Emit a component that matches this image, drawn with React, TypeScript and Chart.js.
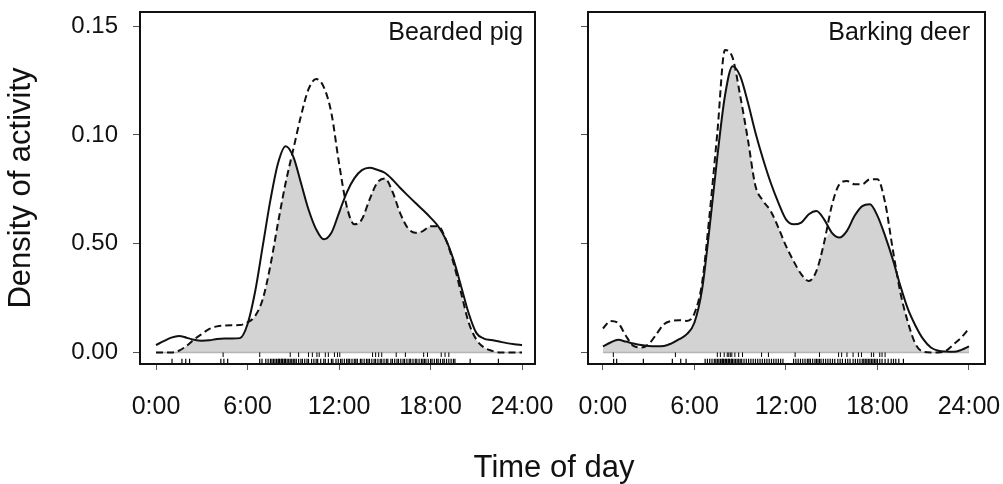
import React, { useEffect, useRef } from 'react';
import { Chart, registerables } from 'chart.js';

Chart.register(...registerables);

const FONT = "'Liberation Sans', Arial, Helvetica, sans-serif";
const INK = '#111111';

// ---- data ----
const hours = [
  0, 0.5, 1, 1.5, 2, 2.5, 3, 3.5, 4, 4.5, 5, 5.5, 6, 6.5, 7, 7.5, 8, 8.5, 9, 9.5,
  10, 10.5, 11, 11.5, 12, 12.5, 13, 13.5, 14, 14.5, 15, 15.5, 16, 16.5, 17, 17.5,
  18, 18.5, 19, 19.5, 20, 20.5, 21, 21.5, 22, 22.5, 23, 23.5, 24,
];

// Bearded pig: solid and dashed density curves
const pigSolid = [
  0.0034, 0.0052, 0.0068, 0.0076, 0.0068, 0.0058, 0.0054, 0.0056, 0.0062, 0.0064,
  0.0064, 0.0066, 0.013, 0.028, 0.049, 0.07, 0.087, 0.0948, 0.09, 0.078,
  0.0657, 0.0566, 0.052, 0.055, 0.0642, 0.0734, 0.08, 0.0838, 0.0849, 0.084,
  0.0826, 0.0795, 0.0757, 0.0722, 0.0688, 0.0655, 0.062, 0.058, 0.052, 0.0428,
  0.0306, 0.018, 0.009, 0.0064, 0.0057, 0.005, 0.0043, 0.0038, 0.0034,
];
const pigDashed = [
  0, 0, 0, 0.0008, 0.003, 0.006, 0.0085, 0.0108, 0.012, 0.0124,
  0.0125, 0.0126, 0.0138, 0.0168, 0.0245, 0.04, 0.0596, 0.078, 0.0933, 0.1086,
  0.121, 0.1257, 0.122, 0.11, 0.087, 0.0673, 0.0589, 0.0612, 0.0703, 0.078,
  0.08, 0.074, 0.0642, 0.0573, 0.055, 0.0558, 0.058, 0.058, 0.052, 0.0413,
  0.0275, 0.0138, 0.006, 0.0023, 0.0008, 0, 0, 0, 0,
];

// Barking deer: solid and dashed density curves
const deerSolid = [
  0.0028, 0.0046, 0.0058, 0.005, 0.0041, 0.0034, 0.003, 0.0029, 0.003, 0.0042,
  0.0061, 0.0084, 0.0138, 0.029, 0.058, 0.09, 0.118, 0.1316, 0.127, 0.115,
  0.101, 0.0888, 0.078, 0.0689, 0.0612, 0.0589, 0.0597, 0.0635, 0.065, 0.0612,
  0.0551, 0.0528, 0.0559, 0.0628, 0.0673, 0.0681, 0.0628, 0.0536, 0.0429, 0.0306,
  0.0199, 0.0122, 0.0061, 0.0023, 0.0008, 0.0004, 0.0003, 0.0012, 0.0028,
];
const deerDashed = [
  0.011, 0.0145, 0.0135, 0.0077, 0.003, 0.0023, 0.0038, 0.0084, 0.013, 0.0145,
  0.0148, 0.0145, 0.018, 0.032, 0.064, 0.101, 0.139, 0.1355, 0.118, 0.098,
  0.0765, 0.0697, 0.065, 0.0574, 0.049, 0.042, 0.036, 0.0329, 0.0375, 0.0505,
  0.0673, 0.0773, 0.0788, 0.0773, 0.0773, 0.0796, 0.0796, 0.0689, 0.0475, 0.0276,
  0.0138, 0.0038, 0.0003, 0, 0, 0.0008, 0.0038, 0.0069, 0.011,
];

// Rug marks (times of records, hours)
const pigRugTop = [
  4.4, 6.8, 8.8, 9.35, 10.0, 10.25, 10.55, 10.7, 11.1, 11.3, 11.7, 11.9, 12.05,
  14.2, 14.4, 14.6, 14.8, 15.75, 16.35, 17.55, 17.8, 18.7, 18.95, 19.2,
];
const pigRugBottom = [
  1.05, 1.7, 1.95, 2.2, 4.25, 4.45, 4.7, 6.8, 6.95, 7.2, 7.35, 7.5, 7.6, 7.7, 7.8,
  7.9, 8.0, 8.05, 8.1, 8.2, 8.25, 8.3, 8.4, 8.45, 8.5, 8.6, 8.7, 8.8, 8.9, 9.0,
  9.1, 9.2, 9.35, 9.5, 9.6, 9.75, 9.9, 10.0, 10.2, 10.35, 10.5, 10.6, 10.8, 11.0,
  11.1, 11.3, 11.5, 11.6, 11.8, 11.95, 12.1, 12.2, 12.35, 12.5, 12.6, 12.7, 12.85,
  13.0, 13.1, 13.2, 13.4, 13.5, 13.65, 13.8, 13.9, 14.0, 14.15, 14.3, 14.4, 14.55,
  14.7, 14.8, 14.95, 15.1, 15.2, 15.4, 15.5, 15.65, 15.8, 15.9, 16.05, 16.2, 16.3,
  16.45, 16.6, 16.7, 16.85, 17.0, 17.1, 17.25, 17.4, 17.5, 17.6, 17.7, 17.85, 18.0,
  18.1, 18.25, 18.4, 18.5, 18.65, 18.8, 18.9, 19.05, 19.2, 19.35, 19.5, 19.6,
  20.6, 22.45,
];
const deerRugTop = [
  0.68, 4.75, 7.5, 7.7, 7.95, 8.15, 8.25, 8.35, 8.45, 8.65, 8.9, 9.15, 10.4, 10.85,
  12.6, 14.2, 15.45, 15.65, 16.0, 16.4, 16.75, 16.95, 17.6, 17.75, 18.15, 18.3, 18.5,
];
const deerRugBottom = [
  0.7, 0.9, 2.65, 4.55, 5.1, 5.45, 6.7, 6.85, 7.0, 7.15, 7.3, 7.4, 7.5, 7.6, 7.7,
  7.8, 7.85, 7.9, 8.0, 8.05, 8.1, 8.2, 8.25, 8.3, 8.4, 8.45, 8.5, 8.6, 8.7, 8.8,
  8.9, 9.0, 9.1, 9.25, 9.4, 9.55, 9.7, 9.85, 10.0, 10.15, 10.3, 10.45, 10.6, 10.75,
  10.9, 11.05, 11.2, 11.35, 11.5, 11.65, 11.8, 12.5, 12.65, 12.8, 12.95, 13.1,
  13.25, 13.4, 13.5, 13.6, 13.75, 13.9, 14.0, 14.1, 14.2, 14.3, 14.45, 14.6, 14.75,
  14.9, 15.05, 15.2, 15.4, 15.55, 15.7, 15.9, 16.05, 16.2, 16.4, 16.55, 16.7, 16.85,
  17.0, 17.1, 17.2, 17.3, 17.4, 17.5, 17.6, 17.7, 17.8, 17.9, 18.0, 18.15, 18.3,
  18.5, 18.7, 18.9, 19.05, 19.2, 19.4, 19.7,
];

const xTickValues = [0, 6, 12, 18, 24];
const xTickLabels = ['0:00', '6:00', '12:00', '18:00', '24:00'];
const yTickValues = [0, 0.05, 0.1, 0.15];
const yTickLabels = ['0.00', '0.50', '0.10', '0.15'];
const panelTitles = ['Bearded pig', 'Barking deer'];
const yAxisTitle = 'Density of activity';
const xAxisTitle = 'Time of day';

// ---- helpers ----
const framePlugin = {
  id: 'panelFrame',
  afterDatasetsDraw(chart: any, _args: any, opts: any) {
    const { ctx, chartArea: a } = chart;
    ctx.save();
    ctx.strokeStyle = INK;
    ctx.lineWidth = 2;
    ctx.strokeRect(a.left, a.top, a.right - a.left, a.bottom - a.top);
    ctx.font = `25px ${FONT}`;
    ctx.fillStyle = INK;
    ctx.textAlign = 'right';
    ctx.textBaseline = 'alphabetic';
    const x = chart.scales.x.getPixelForValue(24) + 1;
    ctx.fillText(opts.text, x, 40);
    ctx.restore();
  },
};

function buildDatasets(solid: number[], dashed: number[], rugTop: number[], rugBottom: number[]) {
  const line = (vals: number[]) => hours.map((h, i) => ({ x: h, y: vals[i] }));
  const overlap = hours.map((h, i) => ({ x: h, y: Math.min(solid[i], dashed[i]) }));
  const rug = (vals: number[], y: number) => vals.map((v) => ({ x: v, y }));
  return [
    {
      data: line(solid), borderColor: INK, borderWidth: 2, pointRadius: 0,
      cubicInterpolationMode: 'monotone', fill: false, order: 1,
    },
    {
      data: line(dashed), borderColor: INK, borderWidth: 2, borderDash: [7, 4], pointRadius: 0,
      cubicInterpolationMode: 'monotone', fill: false, order: 2,
    },
    {
      data: rug(rugTop, -0.00105), showLine: false, pointStyle: 'line', pointRotation: 90,
      pointRadius: 2.3, pointBorderWidth: 1, pointBorderColor: '#000', borderColor: '#000',
      order: 5, clip: false,
    },
    {
      data: rug(rugBottom, -0.0040), showLine: false, pointStyle: 'line', pointRotation: 90,
      pointRadius: 2.4, pointBorderWidth: 1.2, pointBorderColor: '#000', borderColor: '#000',
      order: 6, clip: false,
    },
    {
      data: [{ x: 0, y: 0 }, { x: 24, y: 0 }], borderColor: '#b5b5b5', borderWidth: 1.5,
      pointRadius: 0, fill: false, order: 9,
    },
    {
      data: overlap, borderWidth: 0, borderColor: 'rgba(0,0,0,0)', backgroundColor: '#d3d3d3',
      pointRadius: 0, cubicInterpolationMode: 'monotone', fill: 'origin', order: 10,
    },
  ];
}

function makeConfig(panel: number): any {
  const isLeft = panel === 0;
  const datasets = isLeft
    ? buildDatasets(pigSolid, pigDashed, pigRugTop, pigRugBottom)
    : buildDatasets(deerSolid, deerDashed, deerRugTop, deerRugBottom);
  const gridOpts = (len: number) => ({
    display: true, drawOnChartArea: false, drawTicks: true, tickLength: len,
    color: '#555', lineWidth: 1,
  });
  return {
    type: 'line',
    data: { datasets },
    plugins: [framePlugin],
    options: {
      responsive: false,
      animation: false,
      devicePixelRatio: 1,
      events: [],
      layout: { padding: { top: 12, left: 0, right: isLeft ? 25 : 18, bottom: 0 } },
      plugins: {
        legend: { display: false },
        tooltip: { enabled: false },
        panelFrame: { text: panelTitles[panel] },
        title: isLeft
          ? { display: false }
          : {
              display: true, text: xAxisTitle, position: 'bottom', color: INK,
              font: { family: FONT, size: 31, weight: 'normal', lineHeight: 1 },
              padding: 0,
            },
      },
      scales: {
        x: {
          type: 'linear',
          min: isLeft ? -1.05 : -0.98,
          max: isLeft ? 24.85 : 25.05,
          afterBuildTicks: (s: any) => { s.ticks = xTickValues.map((v) => ({ value: v })); },
          afterFit: (s: any) => {
            s.height = isLeft ? 120 : 89;
            s.paddingLeft = 0; s.paddingRight = 0;
          },
          ticks: {
            callback: (_v: any, i: number) => xTickLabels[i],
            font: { family: FONT, size: 25 }, color: INK, padding: 22,
            maxRotation: 0, autoSkip: false,
          },
          grid: gridOpts(6),
          border: { display: false },
        },
        y: {
          type: 'linear',
          min: -0.0053,
          max: 0.1565,
          afterBuildTicks: (s: any) => { s.ticks = yTickValues.map((v) => ({ value: v })); },
          afterFit: (s: any) => {
            s.width = isLeft ? 140 : 465;
            s.paddingTop = 0; s.paddingBottom = 0;
          },
          ticks: {
            display: isLeft,
            callback: (_v: any, i: number) => yTickLabels[i],
            font: { family: FONT, size: 24 }, color: INK, padding: 15,
          },
          grid: gridOpts(7),
          border: { display: false },
          title: isLeft
            ? {
                display: true, text: yAxisTitle, color: INK,
                font: { family: FONT, size: 31, weight: 'normal' },
                padding: { top: 3, bottom: 0 },
              }
            : { display: false },
        },
      },
    },
  };
}

function Panel({ panel, left, width }: { panel: number; left: number; width: number }) {
  const ref = useRef<HTMLCanvasElement | null>(null);
  useEffect(() => {
    if (!ref.current) return;
    const chart = new Chart(ref.current, makeConfig(panel));
    return () => chart.destroy();
  }, [panel]);
  return (
    <canvas
      ref={ref}
      width={width}
      height={484}
      style={{ position: 'absolute', left, top: 0, width, height: 484 }}
    />
  );
}

export default function App() {
  return (
    <div
      style={{
        position: 'absolute', left: 0, top: 0, width: 1003, height: 484,
        background: '#ffffff', overflow: 'hidden',
      }}
    >
      <Panel panel={0} left={0} width={560} />
      <Panel panel={1} left={123} width={880} />
    </div>
  );
}
